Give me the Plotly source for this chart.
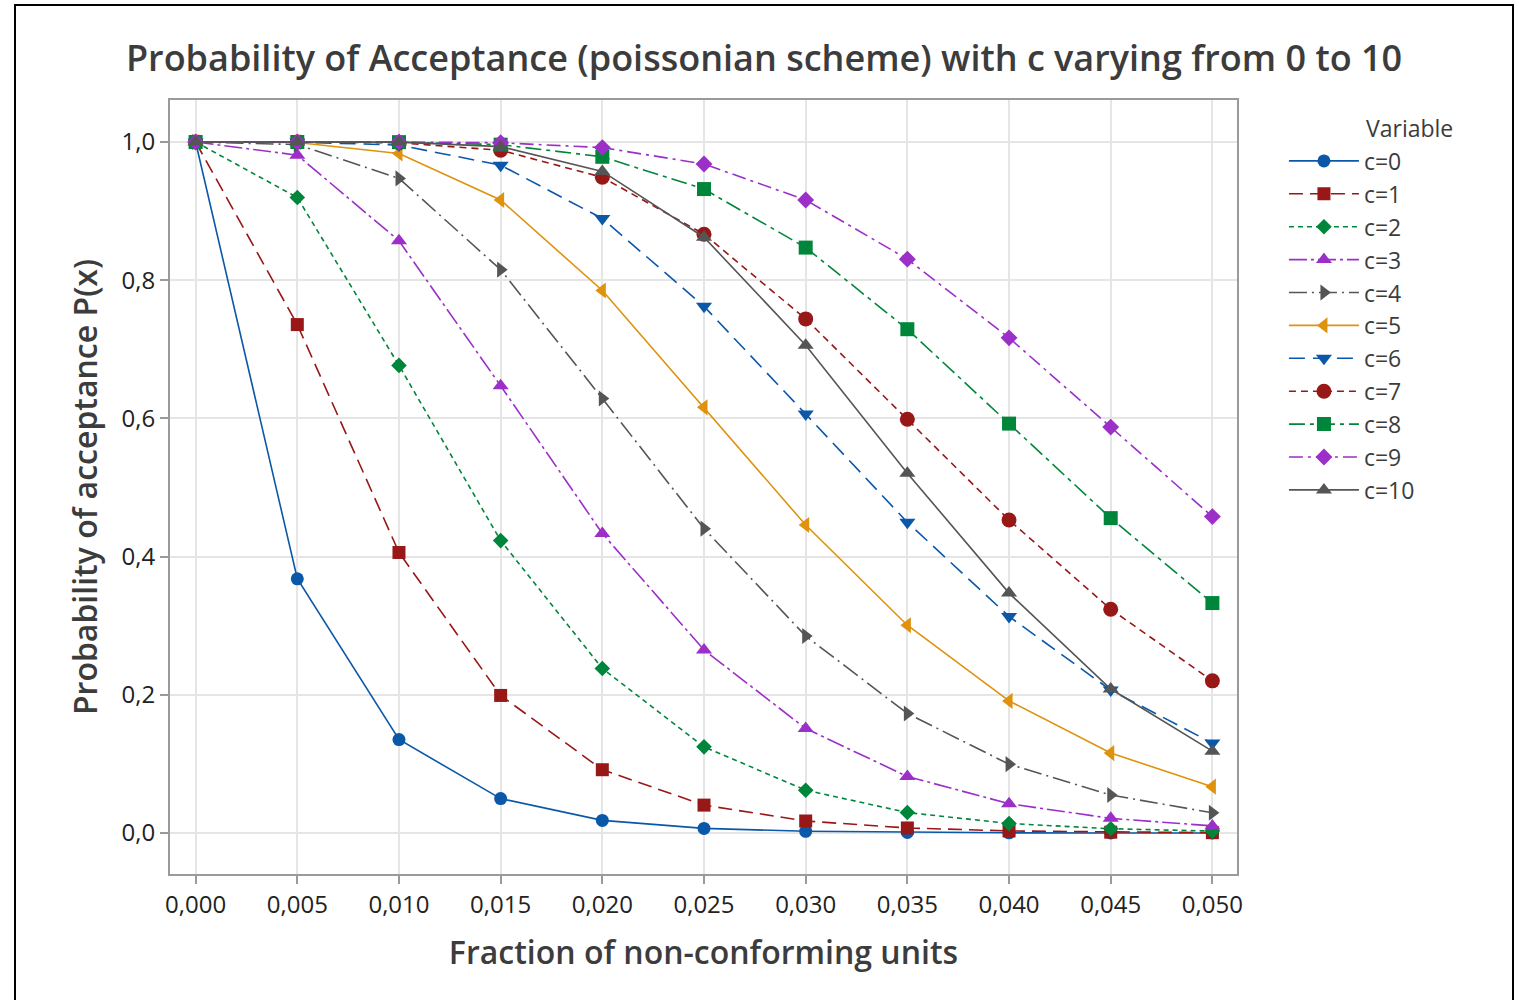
import plotly.graph_objects as go

p = [0.000, 0.005, 0.010, 0.015, 0.020, 0.025, 0.030, 0.035, 0.040, 0.045, 0.050]

c0 = [1.0, 0.3679, 0.1353, 0.0498, 0.0183, 0.0067, 0.0025, 0.0009, 0.0003, 0.0001, 0.0000]
c1 = [1.0, 0.7358, 0.4060, 0.1991, 0.0916, 0.0404, 0.0174, 0.0073, 0.0030, 0.0012, 0.0005]
c2 = [1.0, 0.9197, 0.6767, 0.4232, 0.2381, 0.1247, 0.0620, 0.0296, 0.0138, 0.0062, 0.0028]
c3 = [1.0, 0.9810, 0.8571, 0.6472, 0.4335, 0.2650, 0.1512, 0.0818, 0.0424, 0.0212, 0.0103]
c4 = [1.0, 0.9963, 0.9473, 0.8153, 0.6288, 0.4405, 0.2851, 0.1730, 0.0996, 0.0550, 0.0293]
c5 = [1.0, 0.9994, 0.9834, 0.9161, 0.7851, 0.6160, 0.4457, 0.3007, 0.1912, 0.1157, 0.0671]
c6 = [1.0, 0.9999, 0.9955, 0.9665, 0.8893, 0.7622, 0.6063, 0.4497, 0.3134, 0.2068, 0.1301]
c7 = [1.0, 1.0, 0.9989, 0.9881, 0.9489, 0.8666, 0.7440, 0.5987, 0.4530, 0.3239, 0.2202]
c8 = [1.0, 1.0, 0.9998, 0.9962, 0.9786, 0.9319, 0.8472, 0.7291, 0.5925, 0.4557, 0.3328]
c9 = [1.0, 1.0, 1.0, 0.9989, 0.9919, 0.9682, 0.9161, 0.8305, 0.7166, 0.5874, 0.4579]
c10 = [1.0, 1.0, 0.9999, 0.9933, 0.9574, 0.8622, 0.7060, 0.5207, 0.3472, 0.2084, 0.1185]

names = ["c=0", "c=1", "c=2", "c=3", "c=4", "c=5", "c=6", "c=7", "c=8", "c=9", "c=10"]
series = [c0, c1, c2, c3, c4, c5, c6, c7, c8, c9, c10]

BLUE = "#0B57A8"
RED = "#981717"
GREEN = "#00863A"
PURPLE = "#9B2FC8"
GRAY = "#555555"
ORANGE = "#DE920E"

colors = [BLUE, RED, GREEN, PURPLE, GRAY, ORANGE, BLUE, RED, GREEN, PURPLE, GRAY]
symbols = ["circle", "square", "diamond", "triangle-up", "triangle-right", "triangle-left",
           "triangle-down", "circle", "square", "diamond", "triangle-up"]
sizes = [13, 13, 12, 14, 14, 14, 14, 15, 14, 13, 14]
dashes = ["solid", "14px,7px", "5px,4px", "18px,4px,3px,4px", "18px,5px,2px,5px",
          "solid", "16px,8px", "7px,5px", "16px,5px,4px,5px", "14px,5px,3px,5px", "solid"]

fig = go.Figure()
for i, (nm, ys) in enumerate(zip(names, series)):
    fig.add_trace(go.Scatter(
        x=p, y=ys, name=nm, mode="lines+markers",
        line=dict(color=colors[i], width=1.6, dash=dashes[i]),
        marker=dict(symbol=symbols[i], size=sizes[i], color=colors[i]),
    ))

FONT = "Open Sans"
fig.update_layout(
    width=1519, height=1000,
    margin=dict(l=170, r=282, t=100, b=126),
    paper_bgcolor="white", plot_bgcolor="white",
    separators=",.",
    font=dict(family=FONT, color="#333333"),
    title=dict(text="Probability of Acceptance (poissonian scheme) with c varying from 0 to 10",
               x=0.503, xanchor="center", y=0.942, yanchor="middle",
               font=dict(size=36, color="#3c3c3c", family=FONT, weight=600)),
    xaxis=dict(
        range=[-0.00126, 0.05121], tickvals=p, tickformat=".3f",
        showgrid=True, gridcolor="#e5e5e5", gridwidth=2,
        showline=True, linecolor="#9a9a9a", linewidth=2, mirror=True,
        ticks="outside", ticklen=8, tickcolor="#9a9a9a", tickwidth=2,
        tickfont=dict(size=24, color="#222222", weight=500),
        title=dict(text="Fraction of non-conforming units", standoff=23,
                   font=dict(size=32, color="#3c3c3c", weight=600)),
        zeroline=False,
    ),
    yaxis=dict(
        range=[-0.0593, 1.0608], tickvals=[0, 0.2, 0.4, 0.6, 0.8, 1.0], tickformat=".1f",
        showgrid=True, gridcolor="#e5e5e5", gridwidth=2,
        showline=True, linecolor="#9a9a9a", linewidth=2, mirror=True,
        ticks="outside", ticklen=8, tickcolor="#9a9a9a", tickwidth=2,
        tickfont=dict(size=24, color="#222222", weight=500),
        title=dict(text="Probability of acceptance P(x)", standoff=14,
                   font=dict(size=32, color="#3c3c3c", weight=600)),
        zeroline=False,
    ),
    legend=dict(
        x=1.044, xanchor="left", y=0.949, yanchor="top",
        font=dict(size=23, color="#3c3c3c"),
        itemwidth=70, bgcolor="rgba(0,0,0,0)",
    ),
    annotations=[dict(text="Variable", xref="paper", yref="paper",
                      x=(1364 - 170) / 1067, xanchor="left",
                      y=(874 - 128) / 774, yanchor="middle", showarrow=False,
                      font=dict(size=23, color="#3c3c3c"))],
    shapes=[dict(type="rect", xref="paper", yref="paper",
                 x0=(15 - 170) / 1067, x1=(1513 - 170) / 1067,
                 y0=(874 - 1003) / 774, y1=(874 - 5) / 774,
                 line=dict(color="black", width=2), fillcolor="rgba(0,0,0,0)", layer="below")],
)

fig.write_html("out.html")
